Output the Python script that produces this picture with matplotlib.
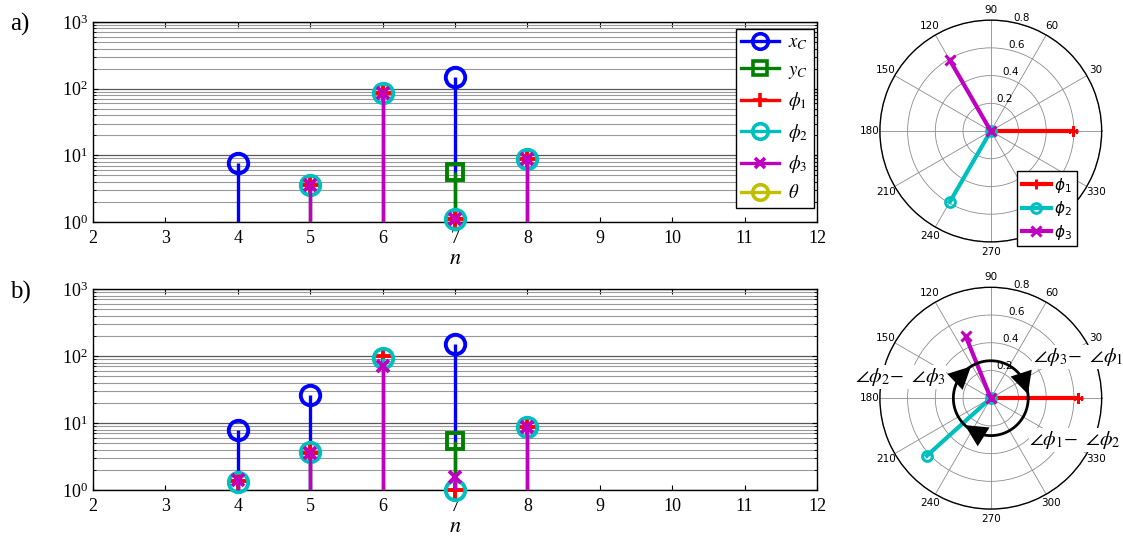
import numpy as np
import matplotlib
matplotlib.use("Agg")
import matplotlib.pyplot as plt
from matplotlib.lines import Line2D
from matplotlib.legend_handler import HandlerLine2D
from matplotlib.font_manager import FontProperties

plt.rcParams['font.family'] = 'serif'
plt.rcParams['font.serif'] = ['Liberation Serif', 'DejaVu Serif']
plt.rcParams['mathtext.fontset'] = 'stix'

# -----------------------------
# data: panel a
# -----------------------------
xc_n_a = [4, 7]
xc_a = [7.6, 148]
yc_n_a = [7]
yc_a = [5.6]
phi_n_a = [5, 6, 7, 8]
phi1_a = [3.6, 85, 1.1, 8.8]
phi2_a = [3.6, 85, 1.1, 8.8]
phi3_a = [3.6, 85, 1.1, 8.8]

# -----------------------------
# data: panel b
# -----------------------------
xc_n_b = [4, 5, 7]
xc_b = [7.9, 26, 151]
yc_n_b = [7]
yc_b = [5.4]
phi_n_b = [4, 5, 6, 7, 8]
phi1_b = [1.35, 3.6, 100, 1.0, 8.6]
phi2_b = [1.33, 3.7, 95, 1.0, 8.6]
phi3_b = [1.4, 3.6, 72, 1.58, 8.6]

# polar phasors (angle in deg, magnitude)
pol_ang_a = [0, 240, 120]
pol_r_a = [0.59, 0.59, 0.59]
pol_ang_b = [0, 222, 112]
pol_r_b = [0.63, 0.62, 0.48]

# angle difference labels in panel b
diff_labels = [r'$\angle\phi_3\!-\ \angle\phi_1$',
               r'$\angle\phi_2\!-\ \angle\phi_3$',
               r'$\angle\phi_1\!-\ \angle\phi_2$']
arrow_angles = [18, 134, 238]

series_labels = [r'$x_C$', r'$y_C$', r'$\phi_{\mathit{1}}$', r'$\phi_{\mathit{2}}$',
                 r'$\phi_{\mathit{3}}$', r'$\theta$']

C_BLUE = (0, 0, 1)
C_GREEN = (0, 0.5, 0)
C_RED = (1, 0, 0)
C_CYAN = (0, 0.75, 0.75)
C_MAG = (0.75, 0, 0.75)
C_YEL = (0.75, 0.75, 0)

styles = [(C_BLUE, 'o', 14), (C_GREEN, 's', 12), (C_RED, '+', 13),
          (C_CYAN, 'o', 14), (C_MAG, 'x', 9), (C_YEL, 'o', 14)]


class HandlerStem(HandlerLine2D):
    # marker at right end, like matlab's stem legend
    def get_xdata(self, legend, xdescent, ydescent, width, height, fontsize):
        return [-xdescent, -xdescent + width], [-xdescent + 0.85 * width]


def stem(ax, n, vals, color, marker, ms):
    ax.vlines(n, 0.1, vals, color=color, lw=2.4, zorder=3)
    ax.plot(n, vals, ls='none', marker=marker, ms=ms, mec=color, mfc='none',
            mew=2.8, zorder=3, clip_on=False)


def stem_panel(ax, xc_n, xc, yc_n, yc, phi_n, p1, p2, p3, legend=False):
    data = [(xc_n, xc), (yc_n, yc), (phi_n, p1), (phi_n, p2), (phi_n, p3)]
    for (n, v), (c, m, ms) in zip(data, styles):
        stem(ax, n, v, c, m, ms)
    ax.set_yscale('log')
    ax.set_ylim(1, 1000)
    ax.set_xlim(2, 12)
    ax.set_xticks(range(2, 13))
    ax.set_yticks([1, 10, 100, 1000])
    ax.grid(True, which='both', axis='y', color='0.6', lw=0.8)
    ax.grid(True, which='major', axis='y', color='0.35', lw=0.9)
    ax.tick_params(which='both', direction='in', top=True, right=True, labelsize=13)
    ax.tick_params(axis='x', pad=6)
    ax.set_xlabel(r'$n$', fontsize=16, labelpad=2)
    for s in ax.spines.values():
        s.set_linewidth(1.0)
    if legend:
        handles = [Line2D([], [], color=c, lw=2.4, marker=m, ms=ms * 0.8, mfc='none', mew=2.6)
                   for c, m, ms in styles]
        leg = ax.legend(handles, series_labels, loc='upper right',
                        bbox_to_anchor=(0.996, 0.965), fontsize=13.5, handlelength=2.0,
                        labelspacing=0.5, fancybox=False, edgecolor='k', framealpha=1,
                        borderpad=0.3, handletextpad=0.5, borderaxespad=0,
                        handler_map={Line2D: HandlerStem()})
        leg.get_frame().set_linewidth(1.0)


def polar_panel(ax, ang, rr):
    for a, r, (c, m, ms) in zip(ang, rr, styles[2:5]):
        t = np.deg2rad(a)
        ax.plot([t, t], [0, r], color=c, lw=3, marker=m, ms=7, mfc='none', mew=2.2)


def polar_style(ax, hidden=(0,)):
    ax.set_ylim(0, 0.8)
    ax.set_rticks([0.2, 0.4, 0.6, 0.8])
    ax.set_yticklabels(['0.2', '0.4', '0.6', '0.8'])
    ax.set_rlabel_position(78)
    angs = list(range(0, 360, 30))
    ax.set_thetagrids(angs, ['' if a in hidden else str(a) for a in angs])
    ax.grid(True, color='0.55', lw=0.6)
    ax.tick_params(labelsize=7.5, pad=-3)
    for lab in ax.get_xticklabels() + ax.get_yticklabels():
        lab.set_family('DejaVu Sans')
    ax.spines['polar'].set_linewidth(1.0)


fig = plt.figure(figsize=(11.23, 5.37), dpi=100)

ax_a = fig.add_axes([0.0828, 0.5866, 0.6447, 0.3724])
stem_panel(ax_a, xc_n_a, xc_a, yc_n_a, yc_a, phi_n_a, phi1_a, phi2_a, phi3_a, legend=True)
ax_b = fig.add_axes([0.0828, 0.0875, 0.6447, 0.3743])
stem_panel(ax_b, xc_n_b, xc_b, yc_n_b, yc_b, phi_n_b, phi1_b, phi2_b, phi3_b)

fig.text(0.009, 0.955, 'a)', fontsize=18, va='center')
fig.text(0.009, 0.455, 'b)', fontsize=18, va='center')

pa = fig.add_axes([0.7835, 0.5495, 0.1975, 0.413], projection='polar')
polar_panel(pa, pol_ang_a, pol_r_a)
polar_style(pa, hidden=(0, 300))
ph = [Line2D([], [], color=c, lw=3, marker=m, ms=7, mfc='none', mew=2.2)
      for c, m, ms in styles[2:5]]
pleg = pa.legend(ph, [r'$\phi_1$', r'$\phi_2$', r'$\phi_3$'], loc='upper right',
                 bbox_to_anchor=(1077 / 1123, 1 - 171 / 537), bbox_transform=fig.transFigure,
                 prop=FontProperties(family='DejaVu Sans', math_fontfamily='dejavusans', size=11),
                 fancybox=False, edgecolor='k', framealpha=1, borderaxespad=0,
                 handlelength=1.9, labelspacing=0.3, borderpad=0.3, handletextpad=0.25)
pleg.get_frame().set_linewidth(1.0)
pleg.set_zorder(10)

pb = fig.add_axes([0.7835, 0.052, 0.1975, 0.413], projection='polar')
polar_panel(pb, pol_ang_b, pol_r_b)
arc_r = 0.27
circ_t = np.linspace(0, 2 * np.pi, 200)
pb.plot(circ_t, np.full_like(circ_t, arc_r), color='k', lw=2, zorder=4)
for a in arrow_angles:
    t = np.deg2rad(a)
    pb.annotate('', xy=(t - np.deg2rad(12), arc_r), xytext=(t + np.deg2rad(12), arc_r),
                arrowprops=dict(arrowstyle='-|>,head_length=0.8,head_width=0.4',
                                color='k', lw=0, mutation_scale=20,
                                shrinkA=0, shrinkB=0), zorder=5)
polar_style(pb)

label_pos = [(1078, 357), (900, 377), (1075, 440)]
for txt, (px, py) in zip(diff_labels, label_pos):
    fig.text(px / 1123, 1 - py / 537, txt, fontsize=14.5, ha='center', va='center',
             bbox=dict(facecolor='white', edgecolor='none', pad=0.5))

fig.savefig('out.png', dpi=100)
